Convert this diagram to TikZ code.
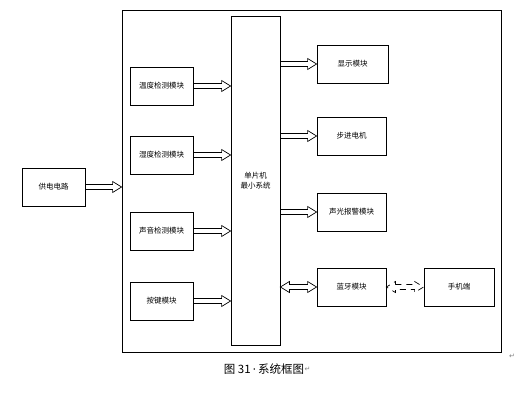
\documentclass[tikz,border=0pt]{standalone}
\usepackage{fontspec}
\setmainfont{Noto Sans CJK SC}
\newfontfamily\symfont{DejaVu Sans}
\usetikzlibrary{calc}
\tikzset{
  box/.style={draw, line width=0.8pt, inner sep=0pt, font=\fontsize{7.5}{10}\selectfont, align=center},
  fat/.style={draw, line width=0.7pt, line join=miter},
  pmark/.style={text=gray, font=\symfont\fontsize{7}{8}\selectfont, inner sep=0pt}
}
\newcommand\fatarrow[2]{\draw[fat] let \p1=(#1), \p2=(#2) in
  (\x1,\y1+2.5pt) -- (\x2-9pt,\y1+2.5pt) -- (\x2-9pt,\y1+5.5pt) -- (\x2,\y1)
  -- (\x2-9pt,\y1-5.5pt) -- (\x2-9pt,\y1-2.5pt) -- (\x1,\y1-2.5pt);}
\newcommand\fatdouble[3][]{\draw[fat,#1] let \p1=(#2), \p2=(#3) in
  (\x1+9pt,\y1+2.5pt) -- (\x2-9pt,\y1+2.5pt) -- (\x2-9pt,\y1+5.5pt) -- (\x2,\y1)
  -- (\x2-9pt,\y1-5.5pt) -- (\x2-9pt,\y1-2.5pt) -- (\x1+9pt,\y1-2.5pt)
  -- (\x1+9pt,\y1-5.5pt) -- (\x1,\y1) -- (\x1+9pt,\y1+5.5pt) -- cycle;}
\begin{document}
\begin{tikzpicture}[x=1pt,y=-1pt]
\useasboundingbox (0,0) rectangle (530,402);
\node[box, minimum width=379pt, minimum height=342pt] (outer) at (311.5,181) {};
\node[box, minimum width=63pt, minimum height=38pt] (pw) at (53.5,187) {供电电路};
\node[box, minimum width=63pt, minimum height=38pt] (t1) at (161.5,86) {温度检测模块};
\node[box, minimum width=63pt, minimum height=38pt] (t2) at (161.5,155) {湿度检测模块};
\node[box, minimum width=63pt, minimum height=38pt] (t3) at (161.5,231) {声音检测模块};
\node[box, minimum width=63pt, minimum height=38pt] (t4) at (161.5,301) {按键模块};
\node[box, minimum width=49pt, minimum height=329pt] (mcu) at (255.5,180.5) {单片机\\最小系统};
\node[box, minimum width=71pt, minimum height=38pt] (d1) at (352.5,64) {显示模块};
\node[box, minimum width=69pt, minimum height=38pt] (d2) at (351.5,136) {步进电机};
\node[box, minimum width=69pt, minimum height=38pt] (d3) at (351.5,212) {声光报警模块};
\node[box, minimum width=69pt, minimum height=38pt] (bt) at (351.5,287) {蓝牙模块};
\node[box, minimum width=70pt, minimum height=38pt] (ph) at (459,287) {手机端};

\fatarrow{pw.east}{outer.west|-pw.east}
\fatarrow{t1.east}{mcu.west|-t1.east}
\fatarrow{t2.east}{mcu.west|-t2.east}
\fatarrow{t3.east}{mcu.west|-t3.east}
\fatarrow{t4.east}{mcu.west|-t4.east}
\fatarrow{mcu.east|-d1.west}{d1.west}
\fatarrow{mcu.east|-d2.west}{d2.west}
\fatarrow{mcu.east|-d3.west}{d3.west}
\fatdouble{mcu.east|-bt.west}{bt.west}
\fatdouble[dashed, dash pattern=on 6pt off 5pt]{bt.east}{ph.west}

\node[inner sep=0pt, font=\fontsize{11.5}{13}\selectfont] (cap) at (264,369) {图\ 31\,{\symfont\textperiodcentered}\,系统框图};
\node[pmark, anchor=west] (m1) at (cap.east) {↵};
\node[pmark] (m2) at (512,356) {↵};
\end{tikzpicture}
\end{document}
